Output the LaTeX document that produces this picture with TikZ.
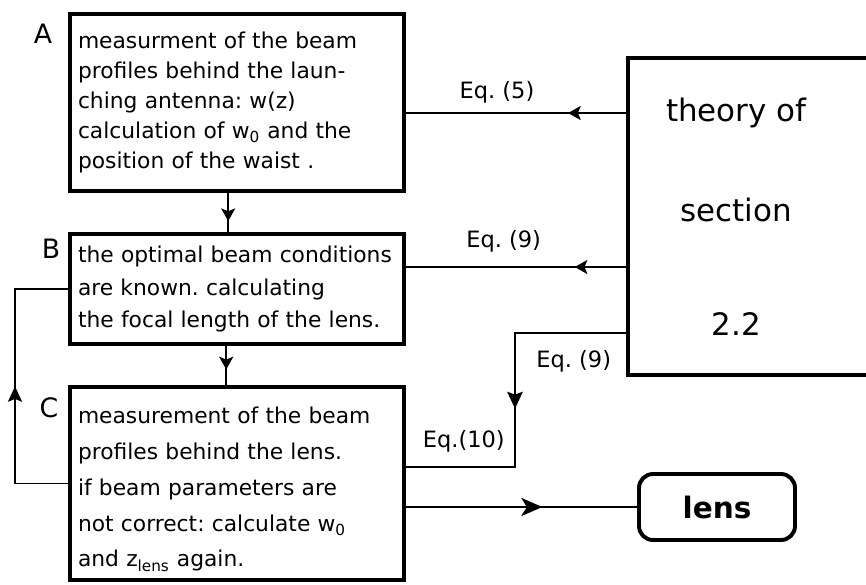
\documentclass[tikz,border=0pt]{standalone}
\usepackage{fontspec}
\setmainfont{DejaVu Sans}
\frenchspacing
\usetikzlibrary{positioning, arrows.meta}
\usetikzlibrary{decorations.markings}
\tikzset{
    stage/.style = {draw, line width=2.8pt, align=left, text width=7.95cm, inner xsep=0.2cm, inner ysep=0pt, minimum width=8.35cm, font=\fontsize{15.5}{21.3}\selectfont},
    link/.style = {draw, line width=1.3pt, >={Stealth[length=9pt, width=10pt, inset=2pt]}},
    mid arrow/.style = {link, postaction={decorate}, decoration={markings, mark=at position #1 with {\arrow{>}}}},
}
\tikzset{
    tag/.style = {inner sep=0pt, font=\fontsize{19}{22}\selectfont},
    eqlabel/.style = {inner sep=0pt, font=\fontsize{16}{19}\selectfont},
    theory/.style = {inner sep=0pt, align=center, minimum width=5.4cm, minimum height=7.925cm, font=\fontsize{22}{26}\selectfont},
    lensbox/.style = {draw, line width=2.8pt, rounded corners=0.35cm, minimum width=3.9cm, minimum height=1.65cm, font=\fontsize{21}{25}\selectfont\bfseries},
}

\begin{document}
\begin{tikzpicture}
        \useasboundingbox (0, 0) rectangle (21.65, -14.6);

        \node[stage, minimum height=4.425cm] (A) at (5.925, -2.5625) {measurment of the beam\\ profiles behind the laun-\\ ching antenna: w(z)\\ calculation of w\textsubscript{0} and the\\ position of the waist .};
        \node[stage, minimum height=2.75cm, font=\fontsize{15.5}{23.4}\selectfont] (B) at (5.925, -7.225) {the optimal beam conditions\\ are known. calculating\\ the focal length of the lens.};
        \node[stage, minimum height=4.825cm, font=\fontsize{15.5}{25.5}\selectfont, text depth=97pt] (C) at (5.925, -12.0875) {measurement of the beam\\ profiles behind the lens.\\ if beam parameters are\\ not correct: calculate w\textsubscript{0}\\ and z\textsubscript{lens} again.};

        \node[tag] (tagA) at (1.075, -0.85) {A};
        \node[tag] (tagB) at (1.275, -6.225) {B};
        \node[tag] (tagC) at (1.225, -10.2) {C};

        \node[theory, anchor=west] (theory) at (15.7, -5.4125) {theory of\\[45pt]section\\[55pt]2.2};
        \draw[line width=2.8pt] (theory.north west -| current bounding box.east) -- (theory.north west) -- (theory.south west) -- (theory.south west -| current bounding box.east);

        \node[lensbox] (lens) at (17.925, -12.675) {lens};

        \coordinate (t5) at (15.7, -2.825);
        \coordinate (t9) at (15.7, -6.675);
        \coordinate (t10) at (15.7, -8.325);
        \coordinate (k10) at (12.875, -8.325);
        \coordinate (k10b) at (12.875, -11.675);
        \coordinate (back) at (0.375, -12.1);

        \draw[mid arrow=0.72] ([xshift=-0.22cm]A.south) -- ([xshift=-0.22cm]B.north);
        \draw[mid arrow=0.6] ([xshift=-0.27cm]B.south) -- ([xshift=-0.27cm]C.north);
        \draw[mid arrow=0.5, >={Stealth[length=11pt, width=10pt, inset=2pt]}] (C.west) -- (C.west -| back) -- (B.west -| back) -- (B.west);
        \draw[mid arrow=0.27] (t5) -- node[eqlabel, pos=0.59, above=6pt] (eq5) {Eq. (5)} (t5 -| A.east);
        \draw[mid arrow=0.24] (t9) -- node[eqlabel, pos=0.56, above=10pt] (eq9) {Eq. (9)} (t9 -| B.east);
        \draw[mid arrow=0.53, >={Stealth[length=12pt, width=11pt, inset=2pt]}] (t10) -- node[eqlabel, pos=0.48, below=12pt] (eq9b) {Eq. (9)} (k10) -- (k10b) -- node[eqlabel, pos=0.47, above=10pt] (eq10) {Eq.(10)} (k10b -| C.east);
        \draw[mid arrow=0.59, >={Stealth[length=15pt, width=13pt, inset=4pt]}] (C.east |- lens.west) -- (lens.west);
    \end{tikzpicture}
\end{document}
